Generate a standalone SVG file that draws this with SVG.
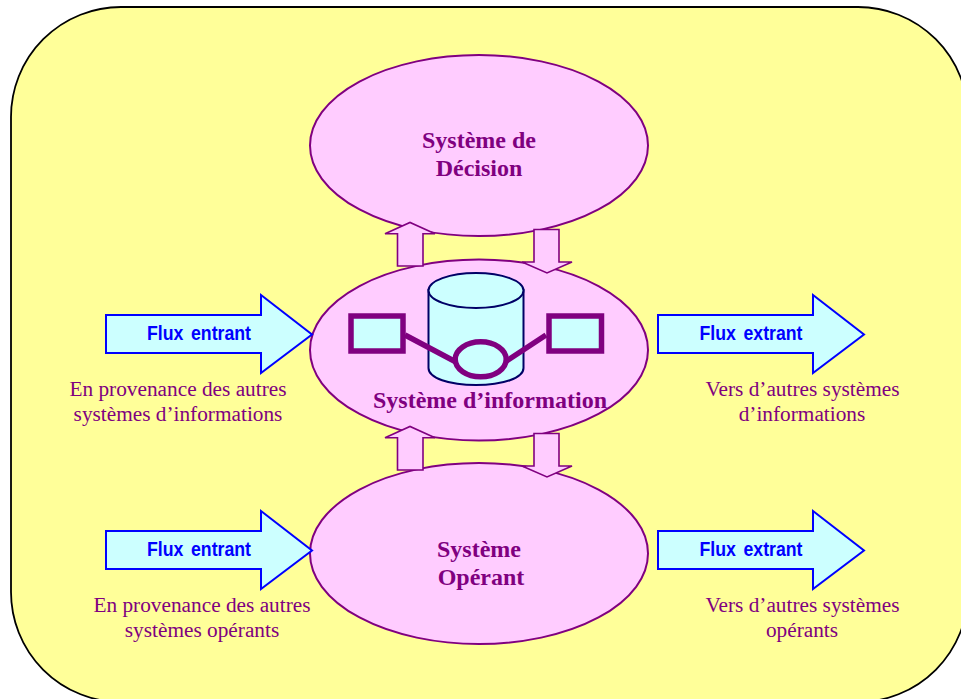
<svg xmlns="http://www.w3.org/2000/svg" width="961" height="699" viewBox="0 0 961 699">
<style>
.sys{fill:#ffccff;stroke:#800080;stroke-width:2}
.flow{fill:#ccffff;stroke:#0000ff;stroke-width:2;stroke-linejoin:miter}
.v{fill:#ffccff;stroke:#800080;stroke-width:1.6}
.t{font-family:"Liberation Serif",serif;font-size:24px;font-weight:bold;fill:#800080;text-anchor:middle}
.s{font-family:"Liberation Serif",serif;font-size:21.300px;fill:#800080;text-anchor:middle}
.f{font-family:"Liberation Sans",sans-serif;font-size:20px;font-weight:bold;fill:#0000ff;text-anchor:middle;word-spacing:3px}
.b{fill:#ccffff;stroke:#800080;stroke-width:5.500}
</style>
<rect id="background" x="11" y="7" width="957" height="695" rx="110" ry="110" fill="#ffff99" stroke="#000" stroke-width="1.800"/>
<g id="decision"><ellipse class="sys" cx="479" cy="145.500" rx="169" ry="90.500"/><text class="t" x="479" y="148">Système de</text><text class="t" x="479" y="176">Décision</text></g>
<g id="operant"><ellipse class="sys" cx="479" cy="553.500" rx="169" ry="90.500"/><text class="t" x="479" y="557">Système</text><text class="t" x="481" y="585">Opérant</text></g>
<g id="information"><ellipse class="sys" cx="479" cy="350" rx="169" ry="90.500"/></g>
<g id="connectors">
<path class="v" d="M397.500 266V233.700H385L410 222.500L435 233.700H423V266Z"/>
<path class="v" d="M534 229.500H559V262H572L547 273L522 262H534Z"/>
<path class="v" d="M397.500 470V437.700H385L410 426.500L435 437.700H423V470Z"/>
<path class="v" d="M534 433.500H559V466H572L547 477L522 466H534Z"/>
</g>
<g id="database">
<path d="M428.500 290V368C428.500 378 449 385 476 385S523.500 378 523.500 368V290Z" fill="#ccffff" stroke="#000066" stroke-width="2"/>
<ellipse cx="476" cy="290.500" rx="47.500" ry="17.500" fill="#ccffff" stroke="#000066" stroke-width="2"/>
<path d="M405 335L456 362M546 335L505 362" fill="none" stroke="#800080" stroke-width="5.500"/>
<rect class="b" x="351" y="316" width="52" height="35"/>
<rect class="b" x="549" y="316" width="52.500" height="35"/>
<ellipse class="b" cx="480.700" cy="359.300" rx="25.500" ry="17.500"/>
<text class="t" x="490" y="408">Système d’information</text>
</g>
<g id="flux-in-1"><path class="flow" d="M106 315H261V295L312 334.500L261 373V353H106Z"/><text class="f" x="199" y="340" textLength="104" lengthAdjust="spacingAndGlyphs">Flux entrant</text>
<text class="s" x="178" y="396">En provenance des autres</text><text class="s" x="178" y="421">systèmes d’informations</text></g>
<g id="flux-out-1"><path class="flow" d="M658 315H813V295L864 334.500L813 373V353H658Z"/><text class="f" x="751" y="340" textLength="103" lengthAdjust="spacingAndGlyphs">Flux extrant</text>
<text class="s" x="802.500" y="396">Vers d’autres systèmes</text><text class="s" x="802" y="421">d’informations</text></g>
<g id="flux-in-2"><path class="flow" d="M106 531H261V511L312 550.500L261 589V569H106Z"/><text class="f" x="199" y="556" textLength="104" lengthAdjust="spacingAndGlyphs">Flux entrant</text>
<text class="s" x="202" y="612">En provenance des autres</text><text class="s" x="202" y="637">systèmes opérants</text></g>
<g id="flux-out-2"><path class="flow" d="M658 531H813V511L864 550.500L813 589V569H658Z"/><text class="f" x="751" y="556" textLength="103" lengthAdjust="spacingAndGlyphs">Flux extrant</text>
<text class="s" x="802.500" y="612">Vers d’autres systèmes</text><text class="s" x="802" y="637">opérants</text></g>
</svg>
